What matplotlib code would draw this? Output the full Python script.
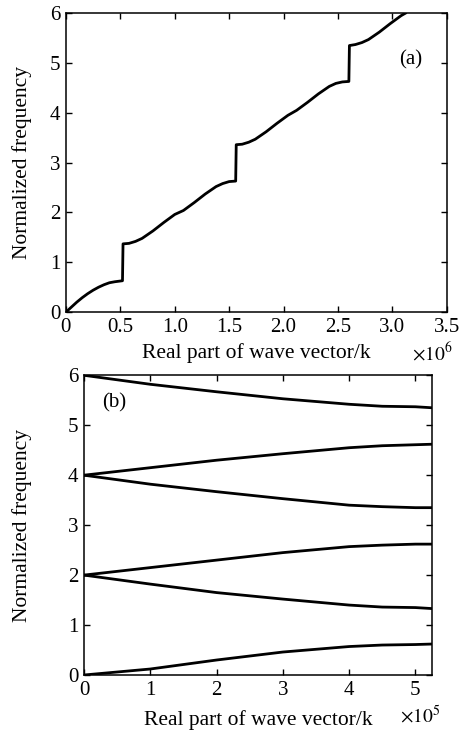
import matplotlib
matplotlib.use("Agg")
import matplotlib.pyplot as plt

plt.rcParams['font.family'] = ['Liberation Serif', 'DejaVu Serif']
plt.rcParams['mathtext.fontset'] = 'stix'

# ---------------------------------------------
# DATA  (a): extended zone, x in units of 1e6
# ---------------------------------------------

x_seg1 = [0.00, 0.05, 0.10, 0.15, 0.20, 0.25, 0.30, 0.35, 0.40, 0.45, 0.52]
f_seg1 = [0.00, 0.10, 0.20, 0.29, 0.37, 0.44, 0.50, 0.55, 0.59, 0.61, 0.63]

x_seg2 = [0.525, 0.58, 0.64, 0.70, 0.80, 0.90, 1.00, 1.04, 1.08, 1.18, 1.28, 1.38, 1.44, 1.50, 1.56]
f_seg2 = [1.37, 1.38, 1.42, 1.48, 1.63, 1.80, 1.96, 2.00, 2.04, 2.20, 2.37, 2.52, 2.58, 2.62, 2.63]

x_seg3 = [1.565, 1.62, 1.68, 1.74, 1.84, 1.94, 2.04, 2.08, 2.12, 2.22, 2.32, 2.42, 2.48, 2.54, 2.60]
f_seg3 = [3.36, 3.37, 3.41, 3.47, 3.62, 3.79, 3.95, 4.00, 4.05, 4.21, 4.38, 4.53, 4.59, 4.62, 4.63]

x_seg4 = [2.605, 2.66, 2.72, 2.78, 2.88, 2.98, 3.08, 3.12]
f_seg4 = [5.35, 5.37, 5.41, 5.47, 5.62, 5.79, 5.95, 6.00]

# ---------------------------------------------
# DATA  (b): reduced zone, k in units of 1e5
# ---------------------------------------------

k_b = [0, 1, 2, 3, 4, 4.5, 5, 5.25]
band1 = [0.00, 0.12, 0.30, 0.46, 0.57, 0.60, 0.61, 0.62]
band2 = [2.00, 1.82, 1.65, 1.52, 1.40, 1.36, 1.35, 1.33]
band3 = [2.00, 2.15, 2.30, 2.45, 2.57, 2.60, 2.62, 2.62]
band4 = [4.00, 3.82, 3.67, 3.53, 3.40, 3.37, 3.35, 3.35]
band5 = [4.00, 4.15, 4.30, 4.43, 4.55, 4.59, 4.61, 4.62]
band6 = [6.00, 5.82, 5.67, 5.53, 5.42, 5.38, 5.37, 5.35]

xticks_a = [0, 0.5, 1.0, 1.5, 2.0, 2.5, 3.0, 3.5]
xticklabels_a = ["0", "0.5", "1.0", "1.5", "2.0", "2.5", "3.0", "3.5"]
xticks_b = [0, 1, 2, 3, 4, 5]
yticks = [0, 1, 2, 3, 4, 5, 6]

fig = plt.figure(figsize=(4.64, 7.31), dpi=100)


def style(ax):
    ax.tick_params(direction='in', top=True, right=True, length=4, width=1,
                   labelsize=15, pad=4)
    for s in ax.spines.values():
        s.set_linewidth(1.1)


# ---------------------------------------------
# PANEL (a)
# ---------------------------------------------

ax1 = fig.add_axes([0.142, 0.573, 0.821, 0.409])
xa = x_seg1 + x_seg2 + x_seg3 + x_seg4
fa = f_seg1 + f_seg2 + f_seg3 + f_seg4
ax1.plot(xa, fa, color='black', lw=2)
ax1.set_xlim(0, 3.5)
ax1.set_ylim(0, 6)
ax1.set_xticks(xticks_a)
ax1.set_xticklabels(xticklabels_a)
ax1.set_yticks(yticks)
style(ax1)
ax1.set_xlabel("Real part of wave vector/k", fontsize=15.5)
ax1.set_ylabel("Normalized frequency", fontsize=15.5)
ax1.xaxis.set_label_coords(0.5, -0.105)
ax1.yaxis.set_label_coords(-0.089, 0.5)
ax1.text(3.17, 5.06, "(a)", fontsize=15, ha='center', va='center')
ax1.text(0.962, -0.135, r"$\times10^6$", transform=ax1.transAxes, fontsize=14,
         ha='center', va='center')

# ---------------------------------------------
# PANEL (b)
# ---------------------------------------------

ax2 = fig.add_axes([0.181, 0.0766, 0.75, 0.41])
for band in [band1, band2, band3, band4, band5, band6]:
    ax2.plot(k_b, band, color='black', lw=2)
ax2.set_xlim(0, 5.25)
ax2.set_ylim(0, 6)
ax2.set_xticks(xticks_b)
ax2.set_yticks(yticks)
style(ax2)
ax2.set_xlabel("Real part of wave vector/k", fontsize=15.5)
ax2.set_ylabel("Normalized frequency", fontsize=15.5)
ax2.xaxis.set_label_coords(0.5, -0.117)
ax2.yaxis.set_label_coords(-0.149, 0.5)
ax2.text(0.45, 5.45, "(b)", fontsize=15, ha='center', va='center')
ax2.text(0.965, -0.135, r"$\times10^5$", transform=ax2.transAxes, fontsize=14,
         ha='center', va='center')

fig.savefig("out.png", dpi=100)
